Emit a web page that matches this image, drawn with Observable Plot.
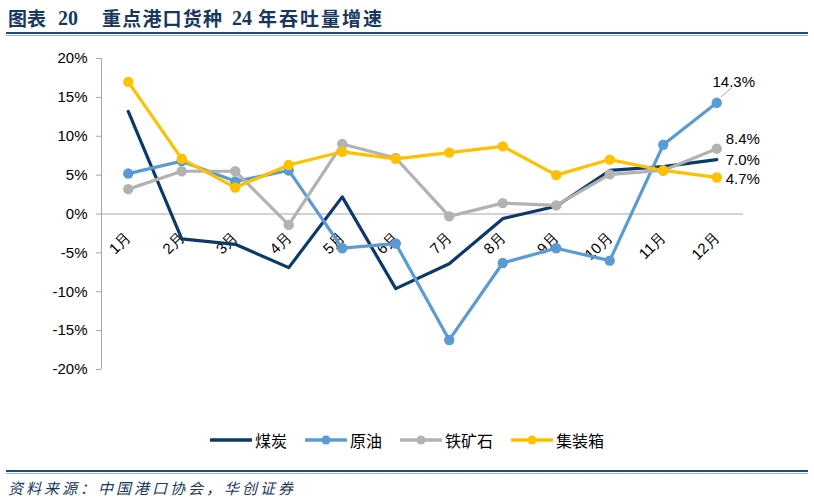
<!DOCTYPE html>
<html><head><meta charset="utf-8">
<script src="https://cdn.jsdelivr.net/npm/d3@7"></script>
<script src="https://cdn.jsdelivr.net/npm/@observablehq/plot@0.6"></script>
<style>
body{margin:0;background:#fff;width:814px;height:502px;position:relative;overflow:hidden;font-family:"Liberation Sans",Arial,sans-serif}
.t{position:absolute;top:4px;font-family:"Noto Sans CJK SC";font-weight:bold;font-size:19px;color:#17375E;white-space:pre;line-height:28px}
.t.n{font-family:"Liberation Serif","Times New Roman",serif;font-size:20px;letter-spacing:0}
.r1{position:absolute;left:6px;width:802px;height:2px;background:#1F4E79}
.r2{position:absolute;left:6px;width:802px;height:1px;background:#9DB3CF}
#chart{position:absolute;left:0;top:40px}
#legend{position:absolute;left:0;top:428px;width:814px;display:flex;justify-content:center;align-items:center;gap:18px;font-family:"Noto Sans CJK SC";font-size:16px;color:#000}
#legend .it{display:flex;align-items:center;gap:3px}
#source{position:absolute;left:8px;top:477px;font-family:"Noto Sans CJK SC";font-style:italic;font-size:15px;letter-spacing:3px;color:#17375E;white-space:pre}
</style></head>
<body>
<div class="t" style="left:8px">图表</div>
<div class="t n" style="left:58px">20</div>
<div class="t" style="left:102px;letter-spacing:1.2px">重点港口货种</div>
<div class="t n" style="left:232px">24</div>
<div class="t" style="left:258px;letter-spacing:2px">年吞吐量增速</div>
<div class="r1" style="top:32px"></div><div class="r2" style="top:35px"></div>
<div id="chart"></div>
<div id="legend"></div>
<div class="r1" style="top:470px"></div><div class="r2" style="top:473px"></div>
<div id="source">资料来源：中国港口协会，华创证券</div>
<script>
const months = ["1月","2月","3月","4月","5月","6月","7月","8月","9月","10月","11月","12月"];
const seriesNames = ["煤炭","原油","铁矿石","集装箱"];
const coal      = [13.2,-3.2,-3.9,-6.9, 2.2,-9.6,-6.4,-0.6, 1.0, 5.6, 6.1, 7.0];
const crudeOil  = [ 5.2, 6.8, 4.2, 5.6,-4.4,-3.8,-16.2,-6.3,-4.4,-6.0, 8.9,14.3];
const ironOre   = [ 3.2, 5.5, 5.5,-1.4, 9.0, 7.2,-0.3, 1.4, 1.1, 5.1, 5.6, 8.4];
const container = [17.0, 7.1, 3.4, 6.3, 8.0, 7.1, 7.9, 8.7, 5.0, 7.0, 5.6, 4.7];
const yTicks = [-20,-15,-10,-5,0,5,10,15,20];
const colors = ["#0B3A6A","#5B9BD5","#B2B2B2","#FFC000"];
const hasMarker = [false,true,true,true];
const allValues = [coal, crudeOil, ironOre, container];

const series = seriesNames.map((name,k)=>({
  name, color: colors[k], marker: hasMarker[k],
  data: allValues[k].map((v,i)=>({m:i+1, v, name}))
}));

// label offsets (screen px) for the end-of-line value labels
const labelStyle = {
  "煤炭":   {dx:9, dy:1, anchor:"start"},
  "原油":   {dx:17, dy:-21, anchor:"middle"},
  "铁矿石": {dx:9, dy:-10, anchor:"start"},
  "集装箱": {dx:9, dy:1.5, anchor:"start"}
};

const marks = [
  Plot.ruleY([0], {stroke:"#A6A6A6", strokeWidth:1}),
  Plot.ruleX([0.5], {stroke:"#A6A6A6", strokeWidth:1}),
  Plot.axisY({ticks:yTicks, tickFormat:d=>d+"%", tickSize:5, tickPadding:9, stroke:"#A6A6A6", fill:"#000", fontSize:15, label:null}),
  Plot.text(months, {x:(d,i)=>i+1, y:()=>0, text:d=>d, rotate:-45, textAnchor:"end", dy:21, dx:0, fontSize:15, fill:"#000"})
];
series.forEach(s=>{
  marks.push(Plot.line(s.data, {x:"m", y:"v", stroke:s.color, strokeWidth:3.2, strokeLinejoin:"round"}));
  if (s.marker) marks.push(Plot.dot(s.data, {x:"m", y:"v", r:5.2, fill:s.color, stroke:null}));
});
series.forEach(s=>{
  const last = s.data[s.data.length-1];
  const st = labelStyle[s.name];
  marks.push(Plot.text([last], {x:"m", y:"v", text:d=>d.v.toFixed(1)+"%", dx:st.dx, dy:st.dy, textAnchor:st.anchor, fontSize:15, fill:"#000"}));
});
// leader line for the crude-oil label, derived from its last value
const lastOil = series[1].data[11];
marks.push(Plot.link([lastOil], {x1:d=>d.m+0.08, y1:d=>d.v+0.75, x2:d=>d.m+0.28, y2:d=>d.v+1.95, stroke:"#A6A6A6", strokeWidth:1}));

const chart = Plot.plot({
  width:814, height:380,
  marginTop:18, marginBottom:51, marginLeft:101, marginRight:71,
  style:{fontFamily:"'Liberation Sans', Arial, sans-serif", background:"#fff"},
  x:{domain:[0.5,12.5], axis:null},
  y:{domain:[-20,20], axis:null},
  marks
});
document.getElementById("chart").appendChild(chart);

const legend = document.getElementById("legend");
series.forEach(s=>{
  const it = document.createElement("div"); it.className="it";
  it.innerHTML = `<svg width="42" height="12"><line x1="1" y1="6" x2="41" y2="6" stroke="${s.color}" stroke-width="3.5" stroke-linecap="round"/>${s.marker?`<circle cx="21" cy="6" r="4.5" fill="${s.color}"/>`:""}</svg><span>${s.name}</span>`;
  legend.appendChild(it);
});
</script>
</body></html>
